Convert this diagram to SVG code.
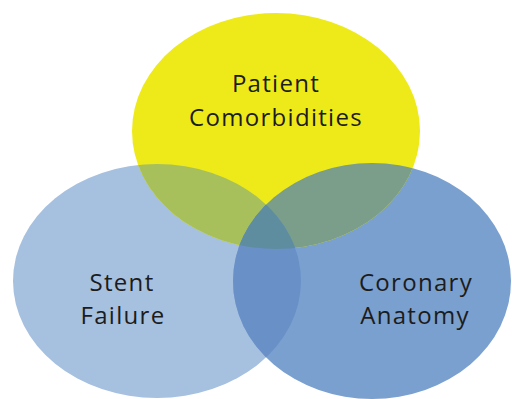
<svg xmlns="http://www.w3.org/2000/svg" width="512" height="399" viewBox="0 0 512 399">
  <style>
    .lbl { font-family: "Open Sans", "Liberation Sans", sans-serif; font-size: 24px; letter-spacing: 1.3px; fill: #1c1c1c; text-anchor: middle; }
  </style>
  <defs>
    <clipPath id="clipY"><ellipse cx="276" cy="131" rx="144" ry="118"/></clipPath>
    <clipPath id="clipL"><ellipse cx="157" cy="281" rx="144" ry="117"/></clipPath>
  </defs>
  <rect width="512" height="399" fill="#ffffff"/>
  <g id="node-stent">
    <ellipse cx="157" cy="281" rx="144" ry="117" fill="#A6C0DF"/>
  </g>
  <g id="node-coronary">
    <ellipse cx="372" cy="281" rx="139" ry="118" fill="#7AA0CF"/>
  </g>
  <g id="node-patient">
    <ellipse cx="276" cy="131" rx="144" ry="118" fill="#EEEA1A"/>
  </g>
  <g id="overlaps">
    <ellipse cx="157" cy="281" rx="144" ry="117" fill="#A8C05C" clip-path="url(#clipY)"/>
    <ellipse cx="372" cy="281" rx="139" ry="118" fill="#7A9E8A" clip-path="url(#clipY)"/>
    <ellipse cx="372" cy="281" rx="139" ry="118" fill="#6A90C8" clip-path="url(#clipL)"/>
    <g clip-path="url(#clipY)">
      <ellipse cx="372" cy="281" rx="139" ry="118" fill="#5E8DA0" clip-path="url(#clipL)"/>
    </g>
  </g>
  <g id="labels">
    <text class="lbl" x="276" y="92">Patient</text>
    <text class="lbl" x="276" y="126">Comorbidities</text>
    <text class="lbl" x="122" y="291">Stent</text>
    <text class="lbl" x="123" y="324">Failure</text>
    <text class="lbl" x="416" y="291">Coronary</text>
    <text class="lbl" x="415" y="324">Anatomy</text>
  </g>
  <g id="connectors"></g>
</svg>
